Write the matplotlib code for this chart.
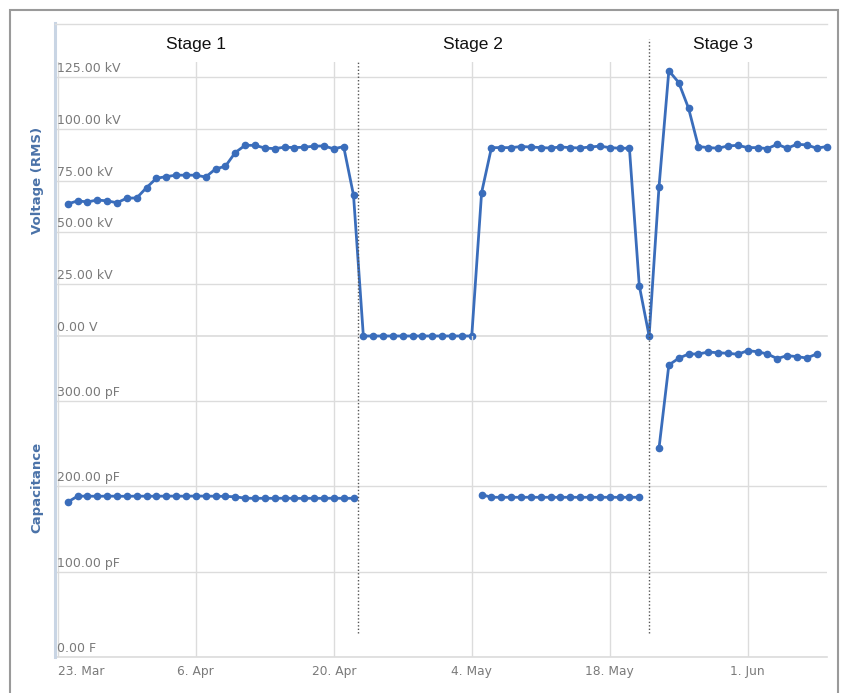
import numpy as np
import pandas as pd
import matplotlib
matplotlib.use("Agg")
import matplotlib.pyplot as plt
import matplotlib.dates as mdates
import matplotlib.transforms as mtransforms
from matplotlib.patches import Rectangle
from matplotlib.lines import Line2D

# daily readings, first one on 24 Mar
dates = pd.date_range("2015-03-24", periods=78, freq="D")

voltage_kv = [
    63.7, 65.2, 64.7, 65.6, 65.2, 64.3, 66.5, 66.6, 71.6, 76.1,
    76.9, 77.6, 77.6, 77.6, 76.7, 80.6, 81.9, 88.5, 92.0, 92.0,
    90.7, 90.4, 91.1, 90.9, 91.1, 91.6, 91.7, 90.3, 91.4, 68.0,
    0, 0, 0, 0, 0, 0, 0, 0, 0, 0, 0, 0,
    69.2, 90.9, 90.9, 90.9, 91.4, 91.2, 90.9, 90.7, 91.2, 90.9,
    90.7, 91.2, 91.6, 90.9, 90.6, 90.6, 24.3,
    0.0,
    71.8, 128.0, 122.3, 109.9,
    91.4, 90.9, 90.6, 91.7, 92.0, 90.9, 90.9, 90.4, 92.5, 90.6,
    92.5, 92.2, 90.6, 91.4,
]

capacitance_pf = [
    181.7, 188.5, 188.6, 188.4, 188.6, 188.5, 188.4, 188.6, 188.5, 188.5,
    188.6, 188.6, 188.5, 188.7, 188.6, 188.5, 188.3, 187.8, 186.2, 186.0,
    186.1, 186.0, 186.2, 186.0, 186.0, 186.1, 186.0, 186.2, 186.0, 186.1,
    None, None, None, None, None, None, None, None, None, None, None, None,
    190.3, 187.3, 187.2, 187.3, 187.2, 187.3, 187.2, 187.3, 187.2, 187.3,
    187.2, 187.3, 187.2, 187.3, 187.2, 187.3, 187.2,
    None,
    244.6, 342.3, 350.2, 355.2, 355.2, 357.5, 356.7, 356.0, 354.9, 359.1,
    357.9, 355.2, 349.8, 353.3, 352.1, 350.5, 355.2,
    None,
]

stage_names = ["Stage 1", "Stage 2", "Stage 3"]
stage_label_dates = ["2015-04-06", "2015-05-04 04:00", "2015-05-29 12:00"]
stage_breaks = ["2015-04-22 12:00", "2015-05-22 00:00"]

x_tick_dates = ["2015-03-23", "2015-04-06", "2015-04-20", "2015-05-04", "2015-05-18", "2015-06-01"]
x_tick_labels = ["23. Mar", "6. Apr", "20. Apr", "4. May", "18. May", "1. Jun"]
volt_ticks = [0, 25, 50, 75, 100, 125]
volt_labels = ["0.00 V", "25.00 kV", "50.00 kV", "75.00 kV", "100.00 kV", "125.00 kV"]
cap_ticks = [0, 100, 200, 300]
cap_labels = ["0.00 F", "100.00 pF", "200.00 pF", "300.00 pF"]

W, H = 843, 693
line_col = "#3a6dbb"
grid_col = "#dcdcdc"
label_col = "#7a7a7a"
title_col = "#4a72a8"

fig = plt.figure(figsize=(W / 100, H / 100), dpi=100)

def px_box(x0, y0, x1, y1):
    return [x0 / W, 1 - y1 / H, (x1 - x0) / W, (y1 - y0) / H]

ax1 = fig.add_axes(px_box(55, 62, 827, 336))
ax2 = fig.add_axes(px_box(55, 336, 827, 657), sharex=ax1)

xmin = pd.Timestamp("2015-03-23") - pd.Timedelta(hours=7)
xmax = pd.Timestamp("2015-03-23") + pd.Timedelta(days=78.05)

cap = np.array([np.nan if c is None else c for c in capacitance_pf])

for ax in (ax1, ax2):
    ax.set_facecolor("none")
    for s in ax.spines.values():
        s.set_visible(False)
    ax.set_xlim(xmin, xmax)
    ax.set_xticks(pd.to_datetime(x_tick_dates))
    ax.grid(True, color=grid_col, linewidth=1)
    ax.set_axisbelow(True)
    ax.tick_params(length=0)
    ax.set_yticklabels([])
    # bottom gridline sits on the axes edge
    ax.axhline(0, color=grid_col, linewidth=1.2, clip_on=False, zorder=0.5)

ax1.set_ylim(0, 132.2)
ax1.set_yticks(volt_ticks)
ax2.set_ylim(0, 376.3)
ax2.set_yticks(cap_ticks)
ax1.tick_params(labelbottom=False)

ax2.set_xticklabels(x_tick_labels)
ax2.tick_params(axis="x", pad=6, labelsize=8.8, labelcolor=label_col)
ax2.get_xticklabels()[0].set_ha("left")

for ax, ticks, labels in ((ax1, volt_ticks, volt_labels), (ax2, cap_ticks, cap_labels)):
    tr = ax.get_yaxis_transform()
    off = mtransforms.offset_copy(tr, fig=fig, x=2, y=2, units="dots")
    for t, lab in zip(ticks, labels):
        ax.text(0, t, lab, transform=off, ha="left", va="bottom",
                fontsize=9, color=label_col)

ax1.plot(dates, voltage_kv, color=line_col, linewidth=2, marker="o",
         markersize=4.5, clip_on=False, zorder=5)
ax2.plot(dates, cap, color=line_col, linewidth=2, marker="o",
         markersize=4.5, clip_on=False, zorder=5)

# stage separators (dotted)
btr = mtransforms.blended_transform_factory(ax2.transData, fig.transFigure)
for d, top in zip(stage_breaks, [62, 39]):
    xd = mdates.date2num(pd.Timestamp(d))
    fig.add_artist(Line2D([xd, xd], [1 - 633 / H, 1 - top / H], transform=btr,
                          color="#555555", linewidth=1, linestyle=(0, (1, 1.5))))

str_ = mtransforms.blended_transform_factory(ax1.transData, fig.transFigure)
for name, d in zip(stage_names, stage_label_dates):
    fig.text(mdates.date2num(pd.Timestamp(d)), 1 - 44 / H, name, transform=str_,
             ha="center", va="center", fontsize=12.5, family="Liberation Sans",
             color="#111111")

# axis titles
fig.text(37 / W, 1 - 180 / H, "Voltage (RMS)", rotation=90, ha="center", va="center",
         fontsize=9.5, fontweight="bold", color=title_col)
fig.text(37 / W, 1 - 487 / H, "Capacitance", rotation=90, ha="center", va="center",
         fontsize=9.5, fontweight="bold", color=title_col)

# left axis bar, top line and outer frame
fig.add_artist(Line2D([55 / W, 55 / W], [1 - 657 / H, 1 - 23 / H], color="#c9d5e4",
                      linewidth=2.2))
fig.add_artist(Line2D([55 / W, 827 / W], [1 - 24 / H, 1 - 24 / H], color=grid_col,
                      linewidth=1))
fig.add_artist(Rectangle((10 / W, -0.05), 828 / W, 1.05 - 10 / H, fill=False,
                         edgecolor="#9a9a9a", linewidth=1.5, transform=fig.transFigure))

fig.savefig("out.png", dpi=100)
